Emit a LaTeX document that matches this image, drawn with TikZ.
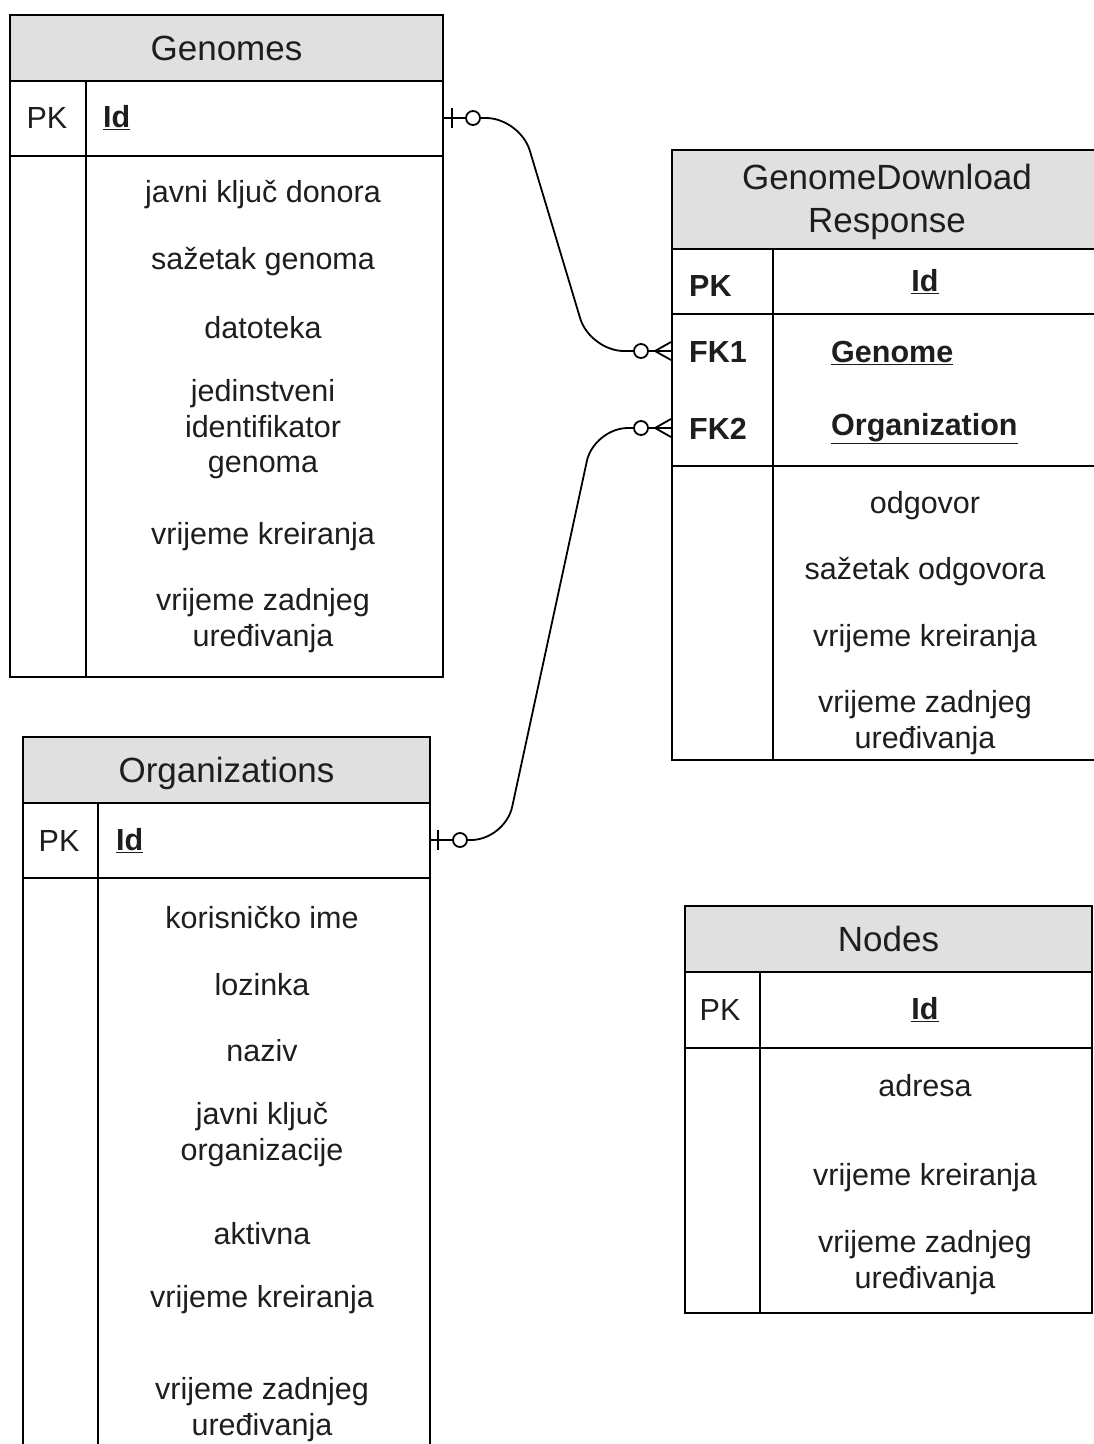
\documentclass[tikz,border=0pt]{standalone}
\usepackage{fontspec}
\setmainfont{Liberation Sans}
\definecolor{ink}{HTML}{1E1E1E}
\definecolor{hdrgray}{HTML}{E0E0E0}
\newcommand{\bodyfont}{\fontsize{30.5}{35.5}\selectfont}
\newcommand{\titlefont}{\fontsize{35}{43}\selectfont}
\newcommand{\keyname}[1]{\textbf{\underline{#1}}}
\begin{document}
\begin{tikzpicture}[x=1pt,y=-1pt,
  rule/.style={draw=black, line width=2pt},
  conn/.style={draw=black, line width=1.8pt},
  hdr/.style={rule, fill=hdrgray, inner sep=0pt, anchor=north west,
    text=ink, font=\titlefont, align=center},
  tbody/.style={rule, inner sep=0pt, anchor=north west},
  attr/.style={text=ink, font=\bodyfont, align=center, inner sep=0pt, yshift=-2.5pt},
  keytxt/.style={attr, anchor=west},
  zcirc/.style={circle, draw=black, line width=1.8pt, fill=white,
    minimum size=14pt, inner sep=0pt}]

\useasboundingbox (0,0) rectangle (1094,1444);
\fill[white] (0,0) rectangle (1094,1444);

% ---------------- Genomes ----------------
\node[tbody, minimum width=433pt, minimum height=596pt] (gen) at (9,80) {};
\node[hdr, minimum width=433pt, minimum height=66pt] (genh) at (9,14) {Genomes};
\draw[rule] (9,156) -- (442,156);
\draw[rule] (86,80) -- (86,676);
\node[attr] (gen-pk) at (47,115.5) {PK};
\node[keytxt] (gen-id) at (103,115.5) {\keyname{Id}};
\node[attr] (gen-a1) at (263,192) {javni ključ donora};
\node[attr] (gen-a2) at (263,259) {sažetak genoma};
\node[attr] (gen-a3) at (263,325) {datoteka};
\node[attr] (gen-a4) at (263,427) {jedinstveni\\identifikator\\genoma};
\node[attr] (gen-a5) at (263,534) {vrijeme kreiranja};
\node[attr] (gen-a6) at (263,618) {vrijeme zadnjeg\\uređivanja};

% ---------------- GenomeDownloadResponse ----------------
\node[tbody, minimum width=430pt, minimum height=511pt] (gdr) at (671,248) {};
\node[hdr, minimum width=430pt, minimum height=99pt, text depth=2pt] (gdrh) at (671,149) {GenomeDownload\\Response};
\draw[rule] (671,314) -- (1101,314);
\draw[rule] (671,466) -- (1101,466);
\draw[rule] (773,248) -- (773,759);
\node[keytxt] (gdr-pk) at (689,284) {\textbf{PK}};
\node[attr] (gdr-id) at (925,279) {\keyname{Id}};
\node[keytxt] (gdr-fk1) at (689,350) {\textbf{FK1}};
\node[keytxt] (gdr-g) at (831,350) {\keyname{Genome}};
\node[keytxt] (gdr-fk2) at (689,426) {\textbf{FK2}};
\node[keytxt] (gdr-o) at (831,426) {\keyname{Organization}};
\node[attr] (gdr-a1) at (925,503) {odgovor};
\node[attr] (gdr-a2) at (925,569) {sažetak odgovora};
\node[attr] (gdr-a3) at (925,636) {vrijeme kreiranja};
\node[attr] (gdr-a4) at (925,720) {vrijeme zadnjeg\\uređivanja};

% ---------------- Organizations ----------------
\node[tbody, minimum width=407pt, minimum height=680pt] (org) at (22,802) {};
\node[hdr, minimum width=407pt, minimum height=66pt, text depth=0pt] (orgh) at (22,736) {Organizations};
\draw[rule] (22,878) -- (429,878);
\draw[rule] (98,802) -- (98,1482);
\node[attr] (org-pk) at (59,838) {PK};
\node[keytxt] (org-id) at (116,838) {\keyname{Id}};
\node[attr] (org-a1) at (262,915) {korisničko ime};
\node[attr] (org-a2) at (262,982) {lozinka};
\node[attr] (org-a3) at (262,1048) {naziv};
\node[attr] (org-a4) at (262,1132) {javni ključ\\organizacije};
\node[attr] (org-a5) at (262,1231) {aktivna};
\node[attr] (org-a6) at (262,1297) {vrijeme kreiranja};
\node[attr] (org-a7) at (262,1407) {vrijeme zadnjeg\\uređivanja};

% ---------------- Nodes ----------------
\node[tbody, minimum width=407pt, minimum height=341pt] (nod) at (684,971) {};
\node[hdr, minimum width=407pt, minimum height=66pt] (nodh) at (684,905) {Nodes};
\draw[rule] (684,1048) -- (1091,1048);
\draw[rule] (760,971) -- (760,1312);
\node[attr] (nod-pk) at (720,1007) {PK};
\node[attr] (nod-id) at (925,1007) {\keyname{Id}};
\node[attr] (nod-a1) at (925,1083) {adresa};
\node[attr] (nod-a2) at (925,1175) {vrijeme kreiranja};
\node[attr] (nod-a3) at (925,1260) {vrijeme zadnjeg\\uređivanja};

% ---------------- relationship ends ----------------
\coordinate (gen-end) at (442,118);
\coordinate (org-end) at (429,840);
\coordinate (gdr-end1) at (671,351);
\coordinate (gdr-end2) at (671,428);
\coordinate (gdr-tip1) at (655,351);
\coordinate (gdr-tip2) at (655,428);

\node[zcirc] (gen-c) at (473,118) {};
\node[zcirc] (org-c) at (460,840) {};
\node[zcirc] (gdr-c1) at (641,351) {};
\node[zcirc] (gdr-c2) at (641,428) {};

% Genomes (one, optional) -> GenomeDownloadResponse (many, optional)
\draw[conn] (gen-end) -- (gen-c.west);
\draw[conn] (452,108) -- (452,128);
\draw[conn, rounded corners=34pt] (gen-c.east) -- (520,118) -- (590,351) -- (gdr-c1.west);
\draw[conn] (gdr-c1.east) -- (gdr-end1);
\draw[conn] (gdr-tip1) -- (671,342) (gdr-tip1) -- (671,360);

% Organizations (one, optional) -> GenomeDownloadResponse (many, optional)
\draw[conn] (org-end) -- (org-c.west);
\draw[conn] (438,830) -- (438,850);
\draw[conn, rounded corners=34pt] (org-c.east) -- (505,840) -- (594,428) -- (gdr-c2.west);
\draw[conn] (gdr-c2.east) -- (gdr-end2);
\draw[conn] (gdr-tip2) -- (671,419) (gdr-tip2) -- (671,437);

\end{tikzpicture}
\end{document}
